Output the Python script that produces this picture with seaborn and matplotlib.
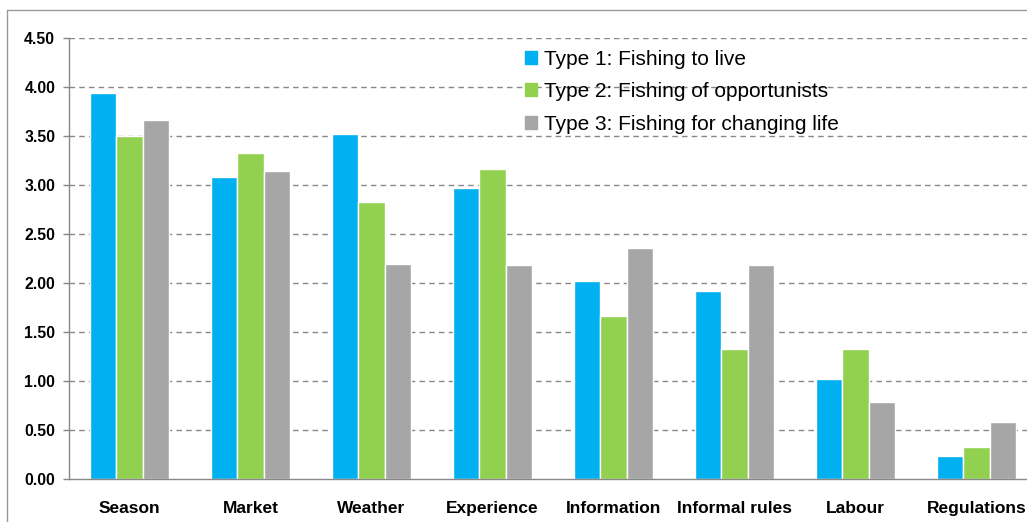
import matplotlib
matplotlib.use("Agg")
import matplotlib.pyplot as plt
import matplotlib.patches as mpatches
import numpy as np
import pandas as pd
import seaborn as sns

# Data
categories = ["Season", "Market", "Weather", "Experience", "Information",
              "Informal rules", "Labour", "Regulations"]
series_names = ["Type 1: Fishing to live", "Type 2: Fishing of opportunists",
                "Type 3: Fishing for changing life"]
type1 = [3.94, 3.08, 3.52, 2.97, 2.02, 1.92, 1.02, 0.24]
type2 = [3.50, 3.33, 2.83, 3.16, 1.66, 1.33, 1.33, 0.33]
type3 = [3.66, 3.14, 2.19, 2.18, 2.36, 2.18, 0.79, 0.58]
colors = ["#00B0F0", "#92D050", "#A6A6A6"]

df = pd.DataFrame({
    "factor": categories * 3,
    "type": np.repeat(series_names, len(categories)),
    "score": type1 + type2 + type3,
})

sns.set_style("white")
plt.rcParams["font.family"] = ["Liberation Sans", "DejaVu Sans"]
plt.rcParams["text.color"] = "black"
plt.rcParams["xtick.labelcolor"] = "black"
plt.rcParams["ytick.labelcolor"] = "black"

fig = plt.figure(figsize=(10.27, 5.22), dpi=100)
ax = fig.add_axes([0.0672, 0.0818, 0.9426, 0.846])

sns.barplot(data=df, x="factor", y="score", hue="type", palette=colors,
            width=0.66, saturation=1, legend=False, ax=ax, errorbar=None)

ax.set_ylim(0, 4.5)
ax.set_xlim(-0.5, len(categories) - 0.5)
ax.set_yticks(np.arange(0, 4.51, 0.5))
ax.set_yticklabels([f"{v:.2f}" for v in np.arange(0, 4.51, 0.5)],
                   fontweight="bold", fontsize=11.3, color="black")
ax.set_xticks(range(len(categories)))
ax.set_xticklabels(categories, fontweight="bold", fontsize=12.5, color="black")
ax.set_xticks(np.arange(-0.5, len(categories)), minor=True)
ax.tick_params(axis="x", which="major", length=0, pad=15.5)
ax.tick_params(axis="x", which="minor", length=4, color="#888888", width=1)
ax.tick_params(axis="y", length=4, color="#888888", width=1, pad=6, left=True)
ax.set_xlabel("")
ax.set_ylabel("")

for y in np.arange(0.5, 4.51, 0.5):
    ax.axhline(y, color="#888888", linestyle=(0, (4, 3)), linewidth=1, zorder=0)
ax.set_axisbelow(True)

for side in ["top", "right"]:
    ax.spines[side].set_visible(False)
for side in ["left", "bottom"]:
    ax.spines[side].set_color("#888888")
    ax.spines[side].set_linewidth(1)

handles = [mpatches.Patch(color=c, label=n) for c, n in zip(colors, series_names)]
leg = ax.legend(handles=handles, loc="upper left", bbox_to_anchor=(0.503, 0.921),
                bbox_transform=fig.transFigure, frameon=False, fontsize=15,
                handlelength=0.6, handleheight=0.6, handletextpad=0.3,
                labelspacing=0.65, borderaxespad=0)
for t in leg.get_texts():
    t.set_color("black")

# outer chart border (left and top visible)
fig.add_artist(plt.Line2D([7 / 1027, 7 / 1027], [0, 1 - 10 / 522],
                          transform=fig.transFigure, color="#999999", linewidth=1))
fig.add_artist(plt.Line2D([7 / 1027, 1], [1 - 10 / 522, 1 - 10 / 522],
                          transform=fig.transFigure, color="#999999", linewidth=1))

fig.savefig("out.png", dpi=100)
